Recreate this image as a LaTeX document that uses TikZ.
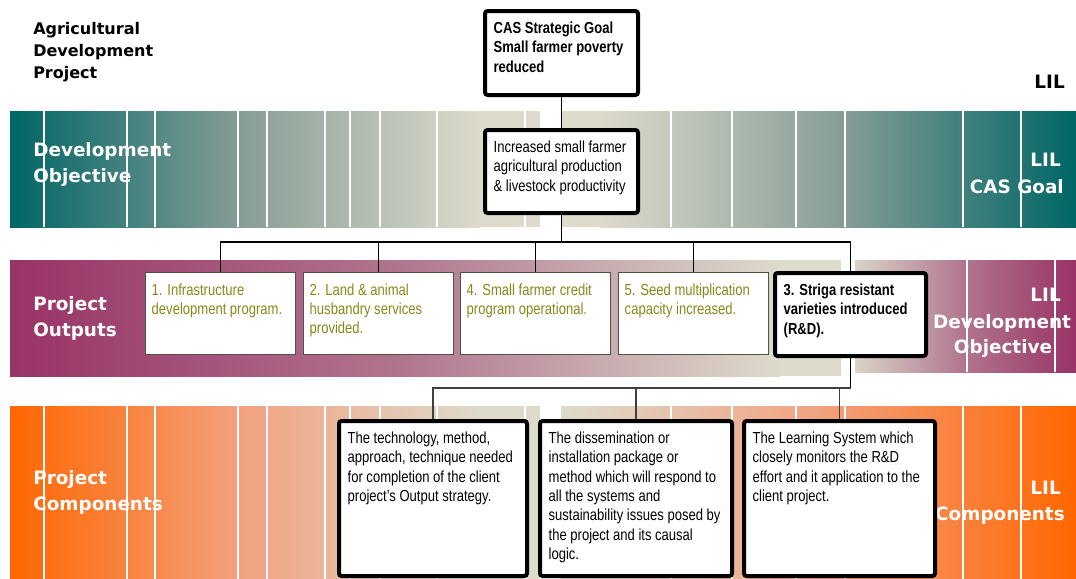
\documentclass[tikz,border=0pt]{standalone}
\usepackage{fontspec}
\usepackage{xcolor}
\setmainfont{Liberation Sans}
\newfontfamily\bandfont{DejaVu Sans}
\newfontfamily\cellfont[FakeStretch=0.815]{Liberation Sans}

\definecolor{tealdk}{RGB}{0,102,102}
\definecolor{tealmid}{RGB}{136,158,151}
\definecolor{sand}{RGB}{221,219,204}
\definecolor{plum}{RGB}{153,51,102}
\definecolor{plummid}{RGB}{176,116,142}
\definecolor{tangerine}{RGB}{255,102,0}
\definecolor{tangmid}{RGB}{242,162,128}
\definecolor{olivetxt}{RGB}{136,136,26}
\definecolor{edgegray}{RGB}{80,80,70}

% top aligned text of fixed size inside a box
\newcommand{\celltext}[3]{\parbox[t][#2][t]{#1}{\raggedright\strut #3}}

\begin{document}
\begin{tikzpicture}[x=0.75pt,y=-0.75pt,
  bandlabel/.style={text=white,font=\bandfont\bfseries\fontsize{13.8}{19.5}\selectfont,align=left,inner sep=0pt},
  cellbox/.style={draw=black,line width=3pt,rounded corners=2pt,fill=white,anchor=north west,inner xsep=6.5pt,inner ysep=6.75pt,font=\cellfont\fontsize{12}{14.5}\selectfont},
  outbox/.style={draw=edgegray,line width=1.1pt,fill=white,anchor=north west,inner xsep=4.5pt,inner ysep=6.75pt,text=olivetxt,font=\cellfont\fontsize{12}{14.5}\selectfont},
  conn/.style={line width=1pt},
  seam/.style={white,line width=0.8pt}]
  \useasboundingbox (0,0) rectangle (1076,579);

  % bands
  \shade[left color=tealdk,right color=sand,middle color=tealmid] (10,111) rectangle (480,227); \fill[sand] (480,111) rectangle (540,227);
  \fill[sand] (561,111) rectangle (600,227); \shade[left color=sand,right color=tealdk,middle color=tealmid] (600,111) rectangle (1076,227);
  \shade[left color=plum,right color=sand,middle color=plummid] (10,260) rectangle (780,376); \fill[sand] (780,260) rectangle (841,376);
  \shade[left color=sand!95!plum,right color=plum,middle color=plummid] (855,260) rectangle (1076,372);
  \shade[left color=tangerine,right color=sand,middle color=tangmid] (10,406) rectangle (480,579); \fill[sand] (480,406) rectangle (540,579);
  \shade[left color=sand,right color=tangerine,middle color=tangmid] (561,406) rectangle (1076,579);
  \foreach \x in {44,127,155,238,267,325,350,380,437,525,671,732,796,845,963,1021} {
    \draw[seam] (\x,111) -- (\x,227); \draw[seam] (\x,406) -- (\x,579);
  }
  \foreach \x in {967,1055} \draw[seam] (\x,260) -- (\x,372);

  % labels
  \node[bandlabel,text=black,font=\bandfont\bfseries\fontsize{12}{16.5}\selectfont,anchor=north west] (title) at (33,21.6) {Agricultural\\Development\\Project};
  \node[bandlabel,anchor=north west] (devlbl) at (33,142.7) {Development\\Objective};
  \node[bandlabel,anchor=north west] (outlbl) at (33,296.7) {Project\\Outputs};
  \node[bandlabel,anchor=north west] (complbl) at (33,470.7) {Project\\Components};
  \node[bandlabel,text=black,anchor=base east] (lilA) at (1065,88.7) {LIL};
  \node[bandlabel,anchor=base east] (lilB) at (1061,166.7) {LIL};
  \node[bandlabel,anchor=base east] (casgoal) at (1064,193.7) {CAS Goal};
  \node[bandlabel,anchor=base east] (lilC) at (1061,301.7) {LIL};
  \node[bandlabel,anchor=base] (lilCdev) at (1002,328.4) {Development};
  \node[bandlabel,anchor=base] (lilCobj) at (1003,353.4) {Objective};
  \node[bandlabel,anchor=base east] (lilD) at (1061,494.7) {LIL};
  \node[bandlabel,anchor=base east] (lilDcomp) at (1065,520.7) {Components};

  % boxes
  \node[cellbox,font=\cellfont\bfseries\fontsize{12}{14.5}\selectfont] (goal) at (483,9) {\celltext{101.75pt}{49.5pt}{CAS Strategic Goal\\Small farmer poverty\\reduced}};
  \node[cellbox] (dev) at (483,128) {\celltext{101.75pt}{48.75pt}{Increased small farmer\\agricultural production\\\& livestock productivity}};
  \node[outbox] (o1) at (145,272) {\celltext{103.5pt}{48pt}{1. Infrastructure\\development program.}};
  \node[outbox] (o2) at (303,272) {\celltext{103.5pt}{48pt}{2. Land \& animal\\husbandry services\\provided.}};
  \node[outbox] (o4) at (460,272) {\celltext{103.5pt}{48pt}{4. Small farmer credit\\program operational.}};
  \node[outbox] (o5) at (618,272) {\celltext{103.5pt}{48pt}{5. Seed multiplication\\capacity increased.}};
  \node[cellbox,font=\cellfont\bfseries\fontsize{12}{14.5}\selectfont] (o3) at (773,271) {\celltext{100.25pt}{48.75pt}{3. Striga resistant\\varieties introduced\\(R\&D).}};
  \node[cellbox] (c1) at (337,419) {\celltext{128pt}{102.75pt}{The technology, method,\\approach, technique needed\\for completion of the client\\project’s Output strategy.}};
  \node[cellbox] (c2) at (538,419) {\celltext{131pt}{102.75pt}{The dissemination or\\installation package or\\method which will respond to\\all the systems and\\sustainability issues posed by\\the project and its causal\\logic.}};
  \node[cellbox] (c3) at (742,419) {\celltext{130.25pt}{102.75pt}{The Learning System which\\closely monitors the R\&D\\effort and it application to the\\client project.}};

  % connectors
  \draw[conn] (goal.south) -- (dev.north);
  \path (dev.south) ++(0,27) coordinate (busO);
  \draw[conn] (dev.south) -- (busO);
  \foreach \n in {o1,o2,o4,o5,o3} \draw[conn] (\n.north) |- (busO);
  \path (o3.south) ++(0,30) coordinate (busC);
  \draw[conn] (o3.south) -- (busC);
  \foreach \n in {c1,c2,c3} \draw[conn,draw=black!75,line width=1.2pt] (\n.north) |- (busC);
\end{tikzpicture}
\end{document}
